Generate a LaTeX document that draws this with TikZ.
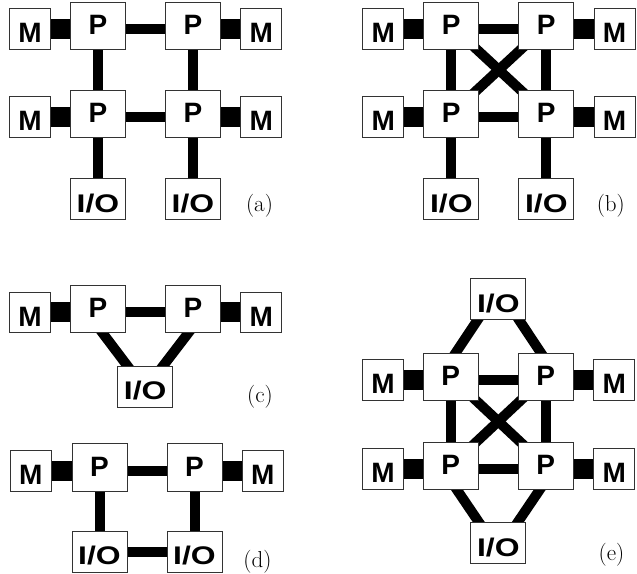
\documentclass[tikz,border=0pt]{standalone}
\usepackage{fontspec}
\usepackage{graphicx}
\usetikzlibrary{calc,backgrounds}
\newfontfamily\hvfont{Liberation Sans}
\begin{document}
\begin{tikzpicture}[x=1pt,y=-1pt,
  box/.style={draw=black!80, line width=1pt, fill=white, inner sep=0pt, anchor=south,
    font=\hvfont\bfseries\fontsize{28}{28}\selectfont},
  mbox/.style={box, minimum width=41pt, text height=34pt, text depth=6.7pt},
  pbox/.style={box, minimum width=55pt, text height=32.3pt, text depth=15pt},
  iobox/.style={box, minimum width=55pt, text height=33.5pt, text depth=7.5pt,
    font=\hvfont\bfseries\fontsize{25.5}{25.5}\selectfont},
  fat/.style={line width=20pt},
  bus/.style={line width=10pt},
  lab/.style={anchor=base, inner sep=0pt, font=\fontsize{23}{23}\selectfont}]
\useasboundingbox (0,0) rectangle (637,573);
% ---------- (a)
\node[mbox] (ma1) at (30,50) {M};
\node[pbox] (pa1) at (98,50) {P};
\node[pbox] (pa2) at (193,50) {P};
\node[mbox] (ma2) at (261.2,50) {M};
\node[mbox] (ma3) at (30,138) {M};
\node[pbox] (pa3) at (98,138) {P};
\node[pbox] (pa4) at (193,138) {P};
\node[mbox] (ma4) at (261.2,138) {M};
\node[iobox] (ioa1) at (98,220) {\scalebox{1.25}[1]{I/O}};
\node[iobox] (ioa2) at (193,220) {\scalebox{1.25}[1]{I/O}};
\node[lab] (la) at (259.5,211.5) {(a)};
% ---------- (b)
\node[mbox] (mb1) at (383.3,50) {M};
\node[pbox] (pb1) at (451.3,50) {P};
\node[pbox] (pb2) at (546.3,50) {P};
\node[mbox] (mb2) at (614.5,50) {M};
\node[mbox] (mb3) at (383.3,138) {M};
\node[pbox] (pb3) at (451.3,138) {P};
\node[pbox] (pb4) at (546.3,138) {P};
\node[mbox] (mb4) at (614.5,138) {M};
\node[iobox] (iob1) at (451.3,220) {\scalebox{1.25}[1]{I/O}};
\node[iobox] (iob2) at (546.3,220) {\scalebox{1.25}[1]{I/O}};
\node[lab] (lb) at (610.8,211.5) {(b)};
% ---------- (c)
\node[mbox] (mc1) at (30,333.3) {M};
\node[pbox] (pc1) at (98,333.3) {P};
\node[pbox] (pc2) at (193,333.3) {P};
\node[mbox] (mc2) at (261.2,333.3) {M};
\node[iobox] (ioc) at (145.2,407.7) {\scalebox{1.25}[1]{I/O}};
\node[lab] (lc) at (260,402.5) {(c)};
% ---------- (d)
\node[mbox] (md1) at (30.8,491.7) {M};
\node[pbox] (pd1) at (99.5,491.7) {P};
\node[pbox] (pd2) at (194.5,491.7) {P};
\node[mbox] (md2) at (262.8,491.7) {M};
\node[iobox] (iod1) at (99.5,572.5) {\scalebox{1.25}[1]{I/O}};
\node[iobox] (iod2) at (194.5,572.5) {\scalebox{1.25}[1]{I/O}};
\node[lab] (ld) at (257.5,567.5) {(d)};
% ---------- (e)
\node[iobox] (ioe1) at (498.3,320) {\scalebox{1.25}[1]{I/O}};
\node[mbox] (me1) at (383,401) {M};
\node[pbox] (pe1) at (450.8,401) {P};
\node[pbox] (pe2) at (545.8,401) {P};
\node[mbox] (me2) at (614.2,401) {M};
\node[mbox] (me3) at (383,490) {M};
\node[pbox] (pe3) at (450.8,490) {P};
\node[pbox] (pe4) at (545.8,490) {P};
\node[mbox] (me4) at (614.2,490) {M};
\node[iobox] (ioe2) at (498.3,564) {\scalebox{1.25}[1]{I/O}};
\node[lab] (le) at (611.5,560.5) {(e)};
% ---------- connectors
\begin{scope}[on background layer]
\fill[white] (0,0) rectangle (637,573);
% (a)
\draw[fat] (ma1.center) -- (ma1.center -| pa1.center);
\draw[fat] (ma2.center) -- (ma2.center -| pa2.center);
\draw[fat] (ma3.center) -- (ma3.center -| pa3.center);
\draw[fat] (ma4.center) -- (ma4.center -| pa4.center);
\draw[bus] (pa1.center |- ma1.center) -- (pa2.center |- ma1.center);
\draw[bus] (pa3.center |- ma3.center) -- (pa4.center |- ma3.center);
\draw[bus] (pa1.center) -- (pa3.center);
\draw[bus] (pa2.center) -- (pa4.center);
\draw[bus] (pa3.center) -- (ioa1.center);
\draw[bus] (pa4.center) -- (ioa2.center);
% (b)
\draw[fat] (mb1.center) -- (mb1.center -| pb1.center);
\draw[fat] (mb2.center) -- (mb2.center -| pb2.center);
\draw[fat] (mb3.center) -- (mb3.center -| pb3.center);
\draw[fat] (mb4.center) -- (mb4.center -| pb4.center);
\draw[bus] (pb1.center |- mb1.center) -- (pb2.center |- mb1.center);
\draw[bus] (pb3.center |- mb3.center) -- (pb4.center |- mb3.center);
\draw[bus] (pb1.center) -- (pb3.center);
\draw[bus] (pb2.center) -- (pb4.center);
\draw[bus] (pb1.center) -- (pb4.center);
\draw[bus] (pb2.center) -- (pb3.center);
\draw[bus] (pb3.center) -- (iob1.center);
\draw[bus] (pb4.center) -- (iob2.center);
% (c)
\draw[fat] (mc1.center) -- (mc1.center -| pc1.center);
\draw[fat] (mc2.center) -- (mc2.center -| pc2.center);
\draw[bus] (pc1.center |- mc1.center) -- (pc2.center |- mc1.center);
\draw[bus] ($(pc1.center)+(-5.5,10.5)$) -- ($(ioc.center)+(-7.7,-7.5)$);
\draw[bus] ($(pc2.center)+(5.5,10.5)$) -- ($(ioc.center)+(7.7,-7.5)$);
% (d)
\draw[fat] (md1.center) -- (md1.center -| pd1.center);
\draw[fat] (md2.center) -- (md2.center -| pd2.center);
\draw[bus] (pd1.center |- md1.center) -- (pd2.center |- md1.center);
\draw[bus] (pd1.center) -- (iod1.center);
\draw[bus] (pd2.center) -- (iod2.center);
\draw[bus] (iod1.center) -- (iod2.center);
% (e)
\draw[fat] (me1.center) -- (me1.center -| pe1.center);
\draw[fat] (me2.center) -- (me2.center -| pe2.center);
\draw[fat] (me3.center) -- (me3.center -| pe3.center);
\draw[fat] (me4.center) -- (me4.center -| pe4.center);
\draw[bus] (pe1.center |- me1.center) -- (pe2.center |- me1.center);
\draw[bus] (pe3.center |- me3.center) -- (pe4.center |- me3.center);
\draw[bus] (pe1.center) -- (pe3.center);
\draw[bus] (pe2.center) -- (pe4.center);
\draw[bus] (pe1.center) -- (pe4.center);
\draw[bus] (pe2.center) -- (pe3.center);
\draw[bus] ($(ioe1.center)+(-13.8,10.5)$) -- ($(pe1.center)+(-2.8,-12.5)$);
\draw[bus] ($(ioe1.center)+(13.8,10.5)$) -- ($(pe2.center)+(2.8,-12.5)$);
\draw[bus] ($(pe3.center)+(-2.1,11.8)$) -- ($(ioe2.center)+(-12.6,-10.7)$);
\draw[bus] ($(pe4.center)+(2.1,11.8)$) -- ($(ioe2.center)+(12.6,-10.7)$);
\end{scope}
\end{tikzpicture}
\end{document}
